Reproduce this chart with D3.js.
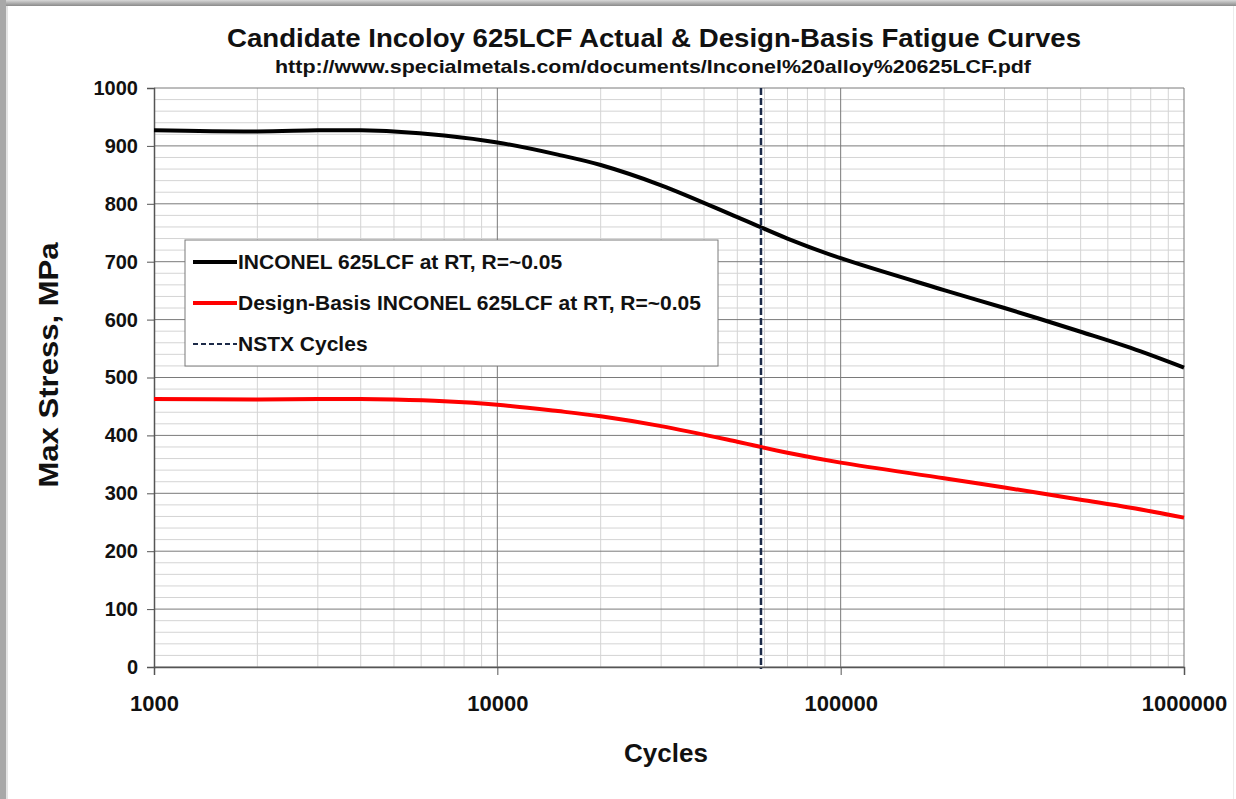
<!DOCTYPE html>
<html>
<head>
<meta charset="utf-8">
<script src="https://d3js.org/d3.v7.min.js"></script>
<style>
  body { margin: 0; background: #fff; }
  svg text { font-family: "Liberation Sans", Arial, sans-serif; font-weight: bold; fill: #111; }
</style>
</head>
<body>
<svg id="chart"></svg>
<script>
// Data
const cycles = [1000, 2000, 3000, 4000, 5000, 7000, 10000, 15000, 20000, 30000, 50000, 70000, 100000, 200000, 300000, 500000, 700000, 1000000];
const actualStress = [927, 925, 927, 927, 925, 918, 906, 885, 867, 832, 777, 740, 706, 651, 620, 579, 551, 517];
const designStress = [463, 462, 463, 463, 462, 459, 453, 442, 433, 416, 389, 370, 353, 326, 310, 289, 275, 258];
const nstxCycles = 58600;
const yTicks = [0, 100, 200, 300, 400, 500, 600, 700, 800, 900, 1000];
const xTicks = [1000, 10000, 100000, 1000000];
const seriesNames = ["INCONEL 625LCF at RT, R=~0.05", "Design-Basis INCONEL 625LCF at RT, R=~0.05", "NSTX Cycles"];

const W = 1236, H = 799;
const margin = { top: 88, right: 52, bottom: 132, left: 154 };
const width = W - margin.left - margin.right;
const height = H - margin.top - margin.bottom;

const svg = d3.select("#chart").attr("width", W).attr("height", H);

// window frame (screenshot edges)
const grad = svg.append("defs").append("linearGradient")
    .attr("id", "topbar").attr("x1", 0).attr("y1", 0).attr("x2", 0).attr("y2", 1);
grad.append("stop").attr("offset", "0%").attr("stop-color", "#d8d8d8");
grad.append("stop").attr("offset", "100%").attr("stop-color", "#8a8a8a");
svg.append("rect").attr("x", 0).attr("y", 0).attr("width", W).attr("height", 6).attr("fill", "url(#topbar)");
svg.append("rect").attr("x", 0).attr("y", 0).attr("width", 6).attr("height", H).attr("fill", "#a8a8a8");
svg.append("rect").attr("x", 6).attr("y", 6).attr("width", 2).attr("height", H).attr("fill", "#e4e4e4");
svg.append("rect").attr("x", W - 3).attr("y", 6).attr("width", 1).attr("height", H).attr("fill", "#ececec");

const g = svg.append("g").attr("transform", `translate(${margin.left},${margin.top})`);

const x = d3.scaleLog().domain([1000, 1000000]).range([0, width]);
const y = d3.scaleLinear().domain([0, 1000]).range([height, 0]);

// minor grid
const minorY = d3.range(0, 1001, 20).filter(v => v % 100 !== 0);
g.append("g").selectAll("line").data(minorY).join("line")
    .attr("x1", 0).attr("x2", width)
    .attr("y1", d => y(d)).attr("y2", d => y(d))
    .attr("stroke", "#d4d4d4").attr("stroke-width", 1);

const minorX = [];
[1000, 10000, 100000].forEach(dec => { for (let k = 2; k <= 9; k++) minorX.push(dec * k); });
g.append("g").selectAll("line").data(minorX).join("line")
    .attr("x1", d => x(d)).attr("x2", d => x(d))
    .attr("y1", 0).attr("y2", height)
    .attr("stroke", "#d4d4d4").attr("stroke-width", 1);

// major grid
g.append("g").selectAll("line").data(yTicks).join("line")
    .attr("x1", 0).attr("x2", width)
    .attr("y1", d => y(d)).attr("y2", d => y(d))
    .attr("stroke", "#7a7a7a").attr("stroke-width", 1);

g.append("g").selectAll("line").data(xTicks.slice(1)).join("line")
    .attr("x1", d => x(d)).attr("x2", d => x(d))
    .attr("y1", 0).attr("y2", height)
    .attr("stroke", "#7a7a7a").attr("stroke-width", 1);

// axes
const yAxis = g.append("g")
    .call(d3.axisLeft(y).tickValues(yTicks).tickFormat(d3.format("d")).tickSize(7).tickPadding(9));
yAxis.select(".domain").attr("stroke", "#555").attr("stroke-width", 1.5);
yAxis.selectAll(".tick line").attr("stroke", "#555");
yAxis.selectAll("text").style("font-size", "20px").style("font-family", "Liberation Sans, Arial, sans-serif")
    .style("font-weight", "bold").attr("fill", "#111");

const xAxis = g.append("g").attr("transform", `translate(0,${height})`)
    .call(d3.axisBottom(x).tickValues(xTicks).tickFormat(d3.format("d")).tickSize(8).tickPadding(20));
xAxis.select(".domain").attr("stroke", "#555").attr("stroke-width", 1.5);
xAxis.selectAll(".tick line").attr("stroke", "#555");
xAxis.selectAll("text").style("font-size", "22px").style("font-family", "Liberation Sans, Arial, sans-serif")
    .style("font-weight", "bold").attr("fill", "#111");

// curves
const line = d3.line().x((d, i) => x(cycles[i])).y(d => y(d)).curve(d3.curveCatmullRom.alpha(0.5));

g.append("path").datum(actualStress)
    .attr("d", line).attr("fill", "none").attr("stroke", "#000").attr("stroke-width", 4);
g.append("path").datum(designStress)
    .attr("d", line).attr("fill", "none").attr("stroke", "#ff0000").attr("stroke-width", 4);

// NSTX vertical line
g.append("line")
    .attr("x1", x(nstxCycles)).attr("x2", x(nstxCycles))
    .attr("y1", 0).attr("y2", height + 2)
    .attr("stroke", "#1c2a48").attr("stroke-width", 2.5).attr("stroke-dasharray", "7,3");

// legend
const legend = svg.append("g").attr("transform", "translate(185,240)");
legend.append("rect").attr("width", 533).attr("height", 126)
    .attr("fill", "#fff").attr("stroke", "#7a7a7a").attr("stroke-width", 1);
const legendStyles = [
    { stroke: "#000", width: 4, dash: null },
    { stroke: "#ff0000", width: 4, dash: null },
    { stroke: "#1c2a48", width: 2, dash: "5,3" }
];
seriesNames.forEach((name, i) => {
    const row = legend.append("g").attr("transform", `translate(0,${22 + i * 41})`);
    row.append("line").attr("x1", 8).attr("x2", 52).attr("y1", 0).attr("y2", 0)
        .attr("stroke", legendStyles[i].stroke).attr("stroke-width", legendStyles[i].width)
        .attr("stroke-dasharray", legendStyles[i].dash);
    row.append("text").attr("x", 53).attr("y", 7).style("font-size", "21px").text(name);
});

// titles
svg.append("text").attr("x", 654).attr("y", 47).attr("text-anchor", "middle")
    .attr("textLength", 854).attr("lengthAdjust", "spacingAndGlyphs")
    .style("font-size", "26px").text("Candidate Incoloy 625LCF Actual & Design-Basis Fatigue Curves");
svg.append("text").attr("x", 653).attr("y", 73).attr("text-anchor", "middle")
    .attr("textLength", 756).attr("lengthAdjust", "spacingAndGlyphs")
    .style("font-size", "19px").text("http://www.specialmetals.com/documents/Inconel%20alloy%20625LCF.pdf");

svg.append("text").attr("x", 666).attr("y", 762).attr("text-anchor", "middle")
    .style("font-size", "26px").text("Cycles");
svg.append("text").attr("transform", "translate(58,365) rotate(-90)").attr("text-anchor", "middle")
    .attr("textLength", 245).attr("lengthAdjust", "spacingAndGlyphs")
    .style("font-size", "27px").text("Max Stress, MPa");
</script>
</body>
</html>
